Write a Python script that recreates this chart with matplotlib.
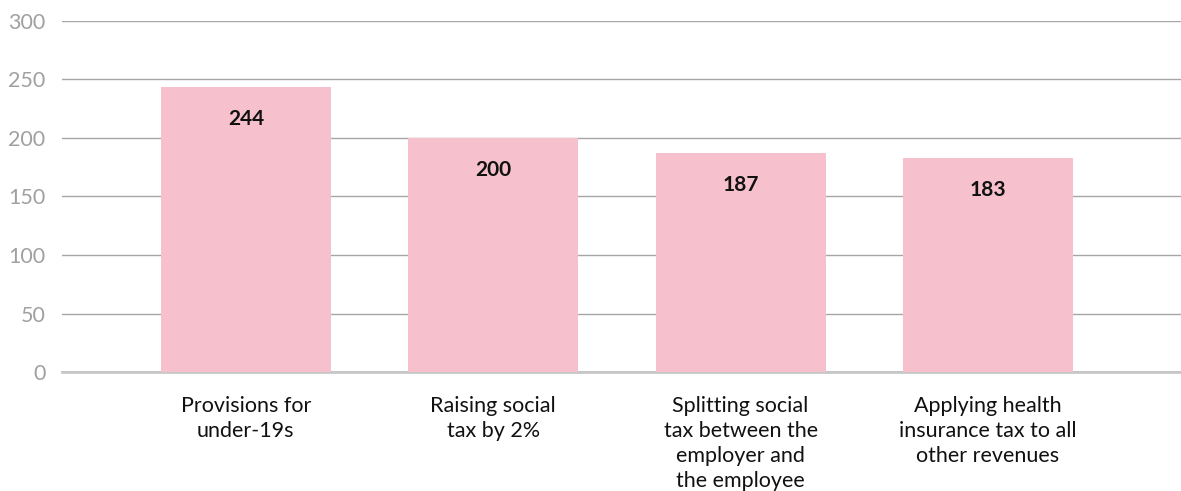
import numpy as np
import matplotlib.pyplot as plt

categories = ['Provisions for\nunder-19s',
              'Raising social\ntax by 2%',
              'Splitting social\ntax between the\nemployer and\nthe employee',
              'Applying health\ninsurance tax to all\nother revenues']
values = [244, 200, 187, 183]
y_ticks = [0, 50, 100, 150, 200, 250, 300]

plt.rcParams['font.family'] = ['Lato', 'DejaVu Sans']

fig = plt.figure(figsize=(11.81, 4.91), dpi=100)
ax = fig.add_axes([62 / 1181, 1 - 372 / 491, 1 - 62 / 1181, (372 - 21) / 491])

x = np.arange(len(categories))
ax.bar(x, values, width=0.687, color='#f6c1cd', zorder=2)

for xi, v in zip(x, values):
    ax.annotate(str(v), (xi, v), xytext=(0, -32), textcoords='offset pixels',
                ha='center', va='center', fontsize=15, fontweight='bold',
                color='#111111', zorder=3)

ax.set_xlim(-0.743, 3.78)
ax.set_ylim(0, 300)
ax.set_yticks(y_ticks)
ax.set_xticks(x)
ax.set_xticklabels(categories, fontsize=15.5, color='#111111', linespacing=1.32)
ax.tick_params(axis='y', length=0, pad=12, labelsize=15.5, labelcolor='#a0a0a0')
ax.tick_params(axis='x', length=0, pad=17)
ax.yaxis.grid(True, color='#a6a6a6', linewidth=1, zorder=0)
ax.axhline(0, color='#c8c8c8', linewidth=2, zorder=1, clip_on=False)
for s in ax.spines.values():
    s.set_visible(False)

fig.savefig('out.png', dpi=100)
